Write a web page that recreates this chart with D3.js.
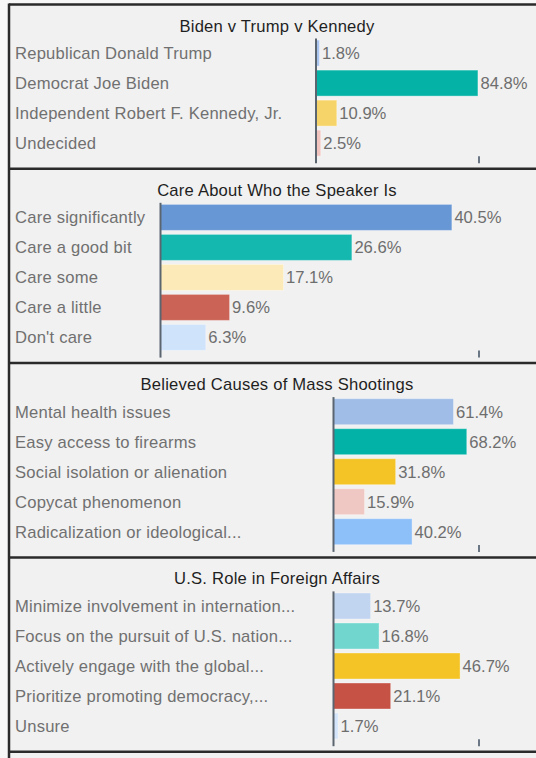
<!DOCTYPE html>
<html>
<head>
<meta charset="utf-8">
<script src="https://cdn.jsdelivr.net/npm/d3@7"></script>
<style>
  html, body { margin: 0; padding: 0; background: #f7f7f7; }
  svg { display: block; }
  text { font-family: "Liberation Sans", Arial, sans-serif; }
</style>
</head>
<body>
<svg id="chart" width="536" height="758"></svg>
<script>
// ---- Survey data -------------------------------------------------------
const raceTitle = "Biden v Trump v Kennedy";
const raceCategories = ["Republican Donald Trump", "Democrat Joe Biden", "Independent Robert F. Kennedy, Jr.", "Undecided"];
const raceValues = [1.8, 84.8, 10.9, 2.5];
const raceColors = ["#a9c4ef", "#05b3a6", "#f7d46a", "#f2c4c0"];

const speakerTitle = "Care About Who the Speaker Is";
const speakerCategories = ["Care significantly", "Care a good bit", "Care some", "Care a little", "Don't care"];
const speakerValues = [40.5, 26.6, 17.1, 9.6, 6.3];
const speakerColors = ["#6897d6", "#14b8af", "#fcebb8", "#cb6357", "#cfe3fb"];

const shootingTitle = "Believed Causes of Mass Shootings";
const shootingCategories = ["Mental health issues", "Easy access to firearms", "Social isolation or alienation", "Copycat phenomenon", "Radicalization or ideological..."];
const shootingValues = [61.4, 68.2, 31.8, 15.9, 40.2];
const shootingColors = ["#9fbde6", "#03b2a6", "#f4c326", "#efc8c3", "#8dbff9"];

const foreignTitle = "U.S. Role in Foreign Affairs";
const foreignCategories = ["Minimize involvement in internation...", "Focus on the pursuit of U.S. nation...", "Actively engage with the global...", "Prioritize promoting democracy,...", "Unsure"];
const foreignValues = [13.7, 16.8, 46.7, 21.1, 1.7];
const foreignColors = ["#c1d5f0", "#70d6ce", "#f4c326", "#c65245", "#d4e5fb"];

// upper end of each panel's value axis
const axisMaxima = [85.1, 44.2, 74.2, 53.5];

// ---- Layout ------------------------------------------------------------
const panelData = [
  { title: raceTitle, cats: raceCategories, vals: raceValues, cols: raceColors },
  { title: speakerTitle, cats: speakerCategories, vals: speakerValues, cols: speakerColors },
  { title: shootingTitle, cats: shootingCategories, vals: shootingValues, cols: shootingColors },
  { title: foreignTitle, cats: foreignCategories, vals: foreignValues, cols: foreignColors }
];
const axisStarts = [316, 160.5, 333.5, 333.5];
const axisEnd = 478.5;
const rowStep = 30;
const panelLeft = 9, panelRight = 545;
const fontSize = 16.6;
const spacing = 0.22;

const svg = d3.select("#chart");
svg.append("rect").attr("width", 536).attr("height", 758).attr("fill", "#f7f7f7");

const fmt = v => d3.format(".1f")(v) + "%";

let panelTop = 4.5;
panelData.forEach((p, i) => {
  const n = p.cats.length;
  const h = 44.3 + rowStep * n;
  const bottom = panelTop + h;
  const g = svg.append("g");

  g.append("rect")
    .attr("x", panelLeft).attr("y", panelTop)
    .attr("width", panelRight - panelLeft).attr("height", h)
    .attr("fill", "#f1f1f1");

  const x = d3.scaleLinear().domain([0, axisMaxima[i]]).range([axisStarts[i], axisEnd]);
  const y = d3.scaleBand().domain(p.cats)
    .range([panelTop + 33.6, panelTop + 33.6 + rowStep * n])
    .paddingInner(4 / 30).paddingOuter(2 / 30);

  g.append("text")
    .attr("x", (panelLeft + panelRight) / 2).attr("y", panelTop + 27)
    .attr("text-anchor", "middle")
    .attr("font-size", fontSize).attr("letter-spacing", spacing).attr("fill", "#1f1f1f")
    .text(p.title);

  // category labels
  g.selectAll("text.cat").data(p.cats).join("text")
    .attr("class", "cat")
    .attr("x", 15)
    .attr("y", d => y(d) + y.bandwidth() / 2)
    .attr("dy", "0.36em")
    .attr("font-size", fontSize).attr("letter-spacing", spacing).attr("fill", "#707070")
    .text(d => d);

  // bars
  g.selectAll("rect.bar").data(p.vals).join("rect")
    .attr("class", "bar")
    .attr("x", x(0))
    .attr("y", (d, j) => y(p.cats[j]))
    .attr("width", d => x(d) - x(0))
    .attr("height", y.bandwidth())
    .attr("fill", (d, j) => p.cols[j])
    .attr("stroke", "rgba(255,255,255,0.35)")
    .attr("stroke-width", 1);

  // value labels
  g.selectAll("text.val").data(p.vals).join("text")
    .attr("class", "val")
    .attr("x", d => x(d) + 2.5)
    .attr("y", (d, j) => y(p.cats[j]) + y.bandwidth() / 2)
    .attr("dy", "0.36em")
    .attr("font-size", fontSize).attr("fill", "#6e6e6e")
    .text(fmt);

  // baseline
  g.append("line")
    .attr("x1", x(0)).attr("x2", x(0))
    .attr("y1", panelTop + 34).attr("y2", bottom - 5.5)
    .attr("stroke", "#5a6570").attr("stroke-width", 2);

  // end tick
  const ax = d3.axisTop(x).tickValues([axisMaxima[i]]).tickSize(7).tickFormat("");
  const axG = g.append("g").attr("transform", `translate(0,${bottom - 5.5})`).call(ax);
  axG.select(".domain").remove();
  axG.selectAll(".tick line").attr("stroke", "#6b7784").attr("stroke-width", 2);

  // panel border
  g.append("line")
    .attr("x1", panelLeft).attr("x2", 536)
    .attr("y1", panelTop).attr("y2", panelTop)
    .attr("stroke", "#2a2a2a").attr("stroke-width", 2.5);

  panelTop = bottom;
});

// closing border and start of the following panel
svg.append("rect").attr("x", panelLeft).attr("y", panelTop).attr("width", panelRight - panelLeft).attr("height", 758 - panelTop).attr("fill", "#f1f1f1");
svg.append("line").attr("x1", panelLeft).attr("x2", 536).attr("y1", panelTop).attr("y2", panelTop)
  .attr("stroke", "#2a2a2a").attr("stroke-width", 2.5);
svg.append("line").attr("x1", panelLeft).attr("x2", panelLeft).attr("y1", 3.5).attr("y2", 758)
  .attr("stroke", "#2a2a2a").attr("stroke-width", 2.5);
</script>
</body>
</html>
